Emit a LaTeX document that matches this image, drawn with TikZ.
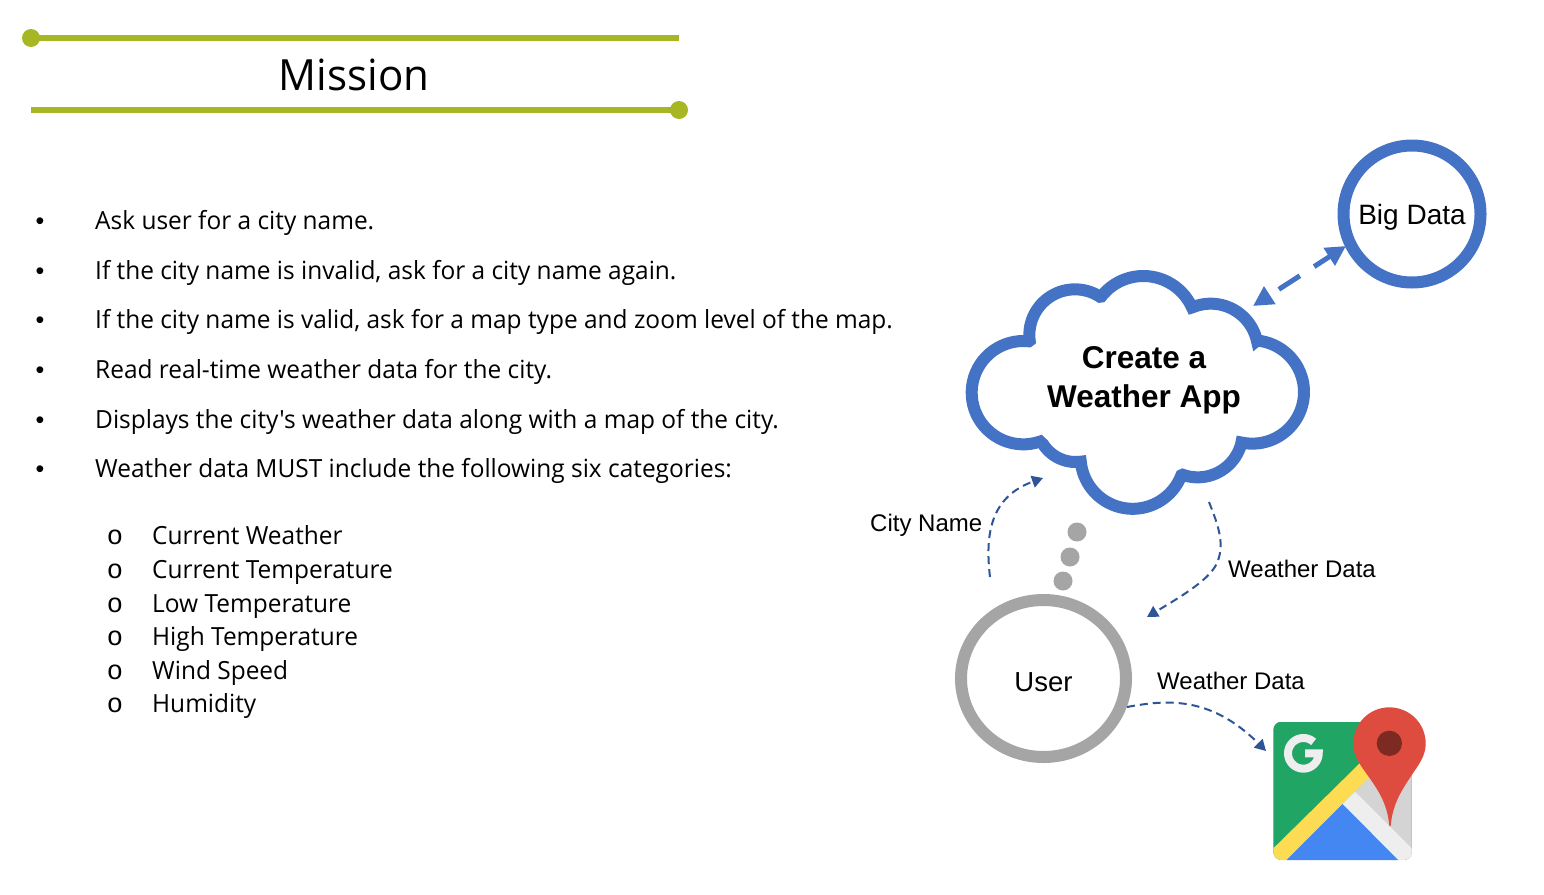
\documentclass[tikz,border=0pt]{standalone}
\usepackage{fontspec}
\setmainfont{Open Sans}
\newfontfamily\bodyf[FakeStretch=0.978]{Open Sans}
\newfontfamily\arialf{Liberation Sans}
\newfontfamily\monof{Liberation Mono}
\usetikzlibrary{arrows.meta,shapes.geometric}
\definecolor{olivebar}{HTML}{A7B724}
\definecolor{cloudblue}{HTML}{4472C4}
\definecolor{darkblue}{HTML}{2F5597}
\definecolor{usergray}{HTML}{A5A5A5}
\definecolor{mapgreen}{HTML}{21A565}
\definecolor{mapyellow}{HTML}{FDDC54}
\definecolor{mapblue}{HTML}{4487F2}
\definecolor{mapgrey}{HTML}{D4D4D4}
\definecolor{mapwhite}{HTML}{EEEEEE}
\definecolor{mapred}{HTML}{DD4C3E}
\definecolor{mapdark}{HTML}{7D2A22}
\tikzset{
  x=1pt,y=-1pt,
  bar/.style={olivebar,line width=6pt},
  bardot/.style={circle,fill=olivebar,minimum size=18pt,inner sep=0pt},
  item/.style={anchor=base west,inner sep=0pt,font=\bodyf\fontsize{25}{30}\selectfont},
  bul/.style={anchor=base,inner sep=0pt,font=\arialf\fontsize{25}{30}\selectfont},
  subbul/.style={anchor=base,inner sep=0pt,font=\monof\fontsize{27}{30}\selectfont},
  lab/.style={anchor=base west,inner sep=0pt,font=\arialf\fontsize{24}{30}\selectfont},
  flow/.style={darkblue,line width=2pt,dash pattern=on 8pt off 5pt,-{Triangle[length=11pt,width=12pt]}},
  blob/.style={circle,fill=usergray,minimum size=19pt,inner sep=0pt},
  arcpts/.style={samples=40,variable=\t},
}
\begin{document}
\begin{tikzpicture}
\path[use as bounding box,fill=white] (0,0) rectangle (1544,894);
% header
\node[bardot] (d1) at (31,38) {};
\coordinate (e1) at (679,38);
\draw[bar] (d1.center) -- (e1);
\node[bardot] (d2) at (679,110) {};
\coordinate (e2) at (31,110);
\draw[bar] (e2) -- (d2.center);
\node[anchor=base,inner sep=0pt,font=\bodyf\fontsize{43}{50}\selectfont] (title) at (354,90) {Mission};
% bullets
\foreach \n/\y/\t in {a/229/{Ask user for a city name.},
  b/279/{If the city name is invalid, ask for a city name again.},
  c/328/{If the city name is valid, ask for a map type and zoom level of the map.},
  d/378/{Read real-time weather data for the city.},
  e/428/{Displays the city's weather data along with a map of the city.},
  f/477/{Weather data MUST include the following six categories:}}{
  \node[bul] (b\n) at (40,\y) {•};
  \node[item] (t\n) at (95,\y) {\t};
}
\foreach \n/\y/\t in {a/544/{Current Weather},b/578/{Current Temperature},c/612/{Low Temperature},
  d/645/{High Temperature},e/679/{Wind Speed},f/712/{Humidity}}{
  \node[subbul] (s\n) at (115,\y) {o};
  \node[item] (u\n) at (152,\y) {\t};
}
% cloud
\begin{scope}[shift={(950,250)},x=0.33333pt,y=-0.33333pt]
\draw[cloudblue,line width=12pt,fill=white,miter limit=2.5]
  plot[arcpts,domain=173:303] ({375+137*cos(\t)},{255+137*sin(\t)})
  -- plot[arcpts,domain=218:335.8] ({580+160*cos(\t)},{238+160*sin(\t)})
  -- plot[arcpts,domain=247.2:347.4] ({782+142*cos(\t)},{303+142*sin(\t)})
  -- plot[arcpts,domain=275.2:462.2] ({907+155*cos(\t)},{426+155*sin(\t)})
  -- plot[arcpts,domain=15.5:109.5] ({743+135*cos(\t)},{547+135*sin(\t)})
  -- plot[arcpts,domain=21:174.5] ({548+156.4*cos(\t)},{620+156.4*sin(\t)})
  -- plot[arcpts,domain=82.6:147] ({377+116*cos(\t)},{520+116*sin(\t)})
  -- plot[arcpts,domain=71:276] ({220+155*cos(\t)},{428+155*sin(\t)})
  -- cycle;
\end{scope}
\node[align=center,inner sep=0pt,font=\arialf\bfseries\fontsize{31.5}{39}\selectfont] (cloud) at (1144,380) {Create a\\Weather App};
% circles
\node[circle,draw=cloudblue,line width=12pt,fill=white,minimum size=137pt,inner sep=0pt,
  text height=21pt,text depth=1pt,font=\arialf\fontsize{28}{32}\selectfont] (bigdata) at (1412,214) {Big Data};
\node[ellipse,draw=usergray,line width=12pt,fill=white,minimum width=165pt,minimum height=157pt,inner sep=0pt,
  text height=25pt,text depth=0pt,font=\arialf\fontsize{27.5}{32}\selectfont] (user) at (1043.5,678.5) {User};
\node[blob] (p1) at (1077,532) {};
\node[blob] (p2) at (1070,557) {};
\node[blob] (p3) at (1063,581) {};
% connectors
\coordinate (bda) at (1253,306);
\coordinate (bdb) at (1346,246);
\draw[cloudblue,line width=5pt,dash pattern=on 25pt off 17pt,dash phase=30pt,
  {Triangle[length=20pt,width=20pt]}-{Triangle[length=20pt,width=20pt]}] (bda) -- (bdb);
\coordinate (c1) at (990,577);
\coordinate (c2) at (1043,478);
\draw[flow] (c1) .. controls (985,535) and (990,497) .. (c2);
\coordinate (w1) at (1209,502);
\coordinate (w2) at (1216,565);
\coordinate (w3) at (1147,617);
\draw[flow] (w1) .. controls (1218,525) and (1226,545) .. (w2) .. controls (1207,582) and (1175,600) .. (w3);
\coordinate (m1) at (1127,707);
\coordinate (m2) at (1266,751);
\draw[flow] (m1) .. controls (1165,700) and (1210,695) .. (m2);
\node[lab] (lc) at (870,531) {City Name};
\node[lab] (lw) at (1228,577) {Weather Data};
\node[lab] (lm) at (1157,689) {Weather Data};
% maps icon
\begin{scope}[shift={(1250,690)},x=0.33333pt,y=-0.33333pt]
\begin{scope}
\clip[rounded corners=8pt] (70,95) rectangle (485,510);
\fill[mapgreen] (70,95) rectangle (485,510);
\fill[mapgrey] (315,305) -- (485,130) -- (485,510) -- cycle;
\fill[mapyellow] (70,475) -- (400,150) -- (430,190) -- (110,510) -- (70,510) -- cycle;
\fill[mapblue] (110,510) -- (278,342) -- (445,510) -- cycle;
\fill[mapwhite] (278,342) -- (315,305) -- (485,475) -- (485,510) -- (445,510) -- cycle;
\end{scope}
\draw[mapwhite,line width=8pt] plot[arcpts,domain=-48:-360] ({160+46*cos(\t)},{190+46*sin(\t)}) -- (165,190);
\fill[mapred] (418,408) .. controls (412,340) and (385,300) .. (345,245) .. controls (320,210) and (310,190) .. (310,160)
  .. controls (310,100) and (358,52) .. (418,52) .. controls (478,52) and (527,100) .. (527,160)
  .. controls (527,190) and (515,212) .. (492,245) .. controls (455,300) and (428,340) .. (422,408) -- cycle;
\fill[mapdark] (418,160) circle[radius=38];
\end{scope}
\end{tikzpicture}
\end{document}
